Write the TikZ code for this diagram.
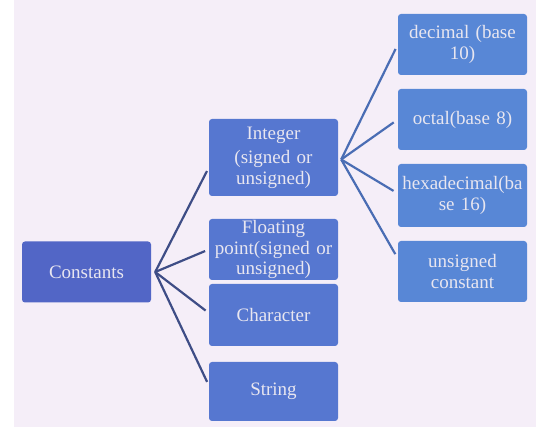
\documentclass[tikz,border=0pt]{standalone}
\usepackage{fontspec}
\setmainfont{Liberation Serif}
\definecolor{paper}{HTML}{F5EEF8}
\definecolor{rootblue}{HTML}{5266C6}
\definecolor{midblue}{HTML}{5677D0}
\definecolor{leafblue}{HTML}{5887D6}
\definecolor{linedark}{HTML}{3E4D86}
\definecolor{linelight}{HTML}{4A6DB4}
\definecolor{boxtext}{HTML}{E8E6F0}
\begin{document}
\begin{tikzpicture}[x=1pt, y=-1pt,
    box/.style={draw=none, rounded corners=3pt, text=boxtext, align=center,
        font=\fontsize{19}{20.5}\selectfont, inner sep=0pt,
        minimum width=129pt, text width=129pt},
    conn/.style={line width=2.2pt, linedark},
    connr/.style={line width=2.2pt, linelight}]
    % background
    \useasboundingbox (0,0) rectangle (536,427);
    \fill[white] (0,0) rectangle (536,427);
    \fill[paper] (14,0) rectangle (536,427);

    % root
    \node[box, fill=rootblue, minimum height=61pt] (const) at (86.5,272) {Constants};

    % middle column
    \node[box, fill=midblue, minimum height=77pt] (int) at (273.5,157.5) {Integer\\[4pt](signed or\\unsigned)};
    \node[box, fill=midblue, minimum height=61pt] (float) at (273.5,249.5) {Floating\\point(signed or\\unsigned)};
    \node[box, fill=midblue, minimum height=62pt] (char) at (273.5,315) {Character};
    \node[box, fill=midblue, minimum height=59pt] (str) at (273.5,391.5) {String};

    % right column
    \node[box, fill=leafblue, minimum height=61pt] (dec) at (462.5,44.5) {decimal (base\\10)};
    \node[box, fill=leafblue, minimum height=61pt] (oct) at (462.5,119.5) {octal(base 8)};
    \node[box, fill=leafblue, minimum height=63pt] (hex) at (462.5,195.5) {hexadecimal(ba\\se 16)};
    \node[box, fill=leafblue, minimum height=61pt] (uns) at (462.5,271.5) {unsigned\\constant};

    \coordinate (hubL) at ([xshift=4pt]const.east);
    \coordinate (hubR) at ([xshift=3pt,yshift=-2pt]int.east);

    % left branches
    \draw[conn, shorten >=4pt] (hubL) -- ([yshift=-10pt]int.west);
    \draw[conn, shorten >=4pt] (hubL) -- (float.west);
    \draw[conn, shorten >=4pt] (hubL) -- ([yshift=2pt]char.west);
    \draw[conn, shorten >=4pt] (hubL) -- ([yshift=6pt]str.west);

    % right branches
    \draw[connr, shorten >=5pt] (hubR) -- (dec.west);
    \draw[connr, shorten >=5pt] (hubR) -- (oct.west);
    \draw[connr, shorten >=5pt] (hubR) -- ([yshift=2pt]hex.west);
    \draw[connr, shorten >=5pt] (hubR) -- ([yshift=13pt]uns.west);
\end{tikzpicture}
\end{document}
